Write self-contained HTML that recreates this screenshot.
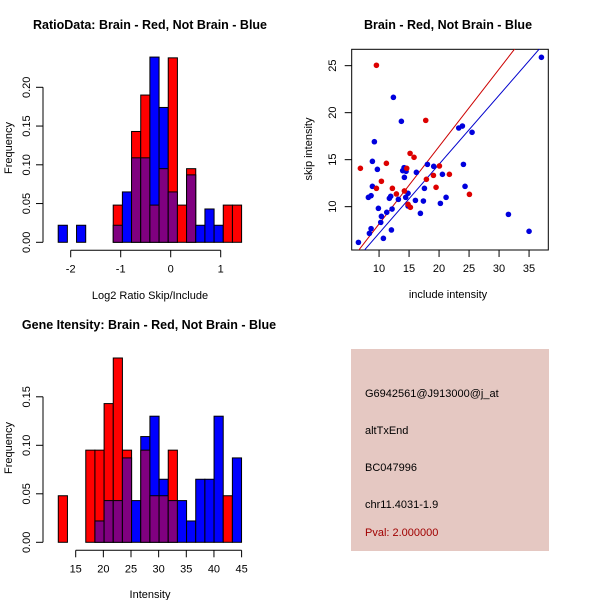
<!DOCTYPE html>
<html><head><meta charset="utf-8"><style>
html,body{margin:0;padding:0;background:#fff;}
svg{display:block;font-family:"Liberation Sans",sans-serif;}
.t{font-size:12.5px;font-weight:bold;}
.k{font-size:11px;}
</style></head><body>
<svg id="c" width="600" height="600" xmlns="http://www.w3.org/2000/svg">
<rect x="351" y="349" width="198" height="202" fill="#e5c8c2"/>
<g font-size="11">
<text x="365" y="397">G6942561@J913000@j_at</text>
<text x="365" y="434">altTxEnd</text>
<text x="365" y="471">BC047996</text>
<text x="365" y="508">chr11.4031-1.9</text>
<text x="365" y="536" fill="#a00000">Pval: 2.000000</text>
</g>
<defs><clipPath id="sc"><rect x="352" y="49" width="196" height="201"/></clipPath></defs>
</svg>
<script>
// Ratio histogram data
const ratioBinStart = -2.25, ratioBinWidth = 0.1834;
const ratioRed  = [0,0,0,0,0,0,0.048,0,0.143,0.19,0.048,0.095,0.238,0.048,0.095,0,0,0,0.048,0.048];
const ratioBlue = [0.022,0,0.022,0,0,0,0.022,0.065,0.109,0.109,0.239,0.174,0.065,0,0.087,0.022,0.043,0.022,0,0];
const ratioXTicks = [-2,-1,0,1];
const ratioYTicks = ["0.00","0.05","0.10","0.15","0.20"];
// Gene intensity histogram data
const intBinStart = 11.85, intBinWidth = 1.657;
const intRed  = [0.048,0,0,0.095,0.095,0.143,0.19,0.095,0,0.095,0.048,0.048,0.095,0,0,0,0,0,0.048,0];
const intBlue = [0,0,0,0,0.022,0.043,0.043,0.087,0.043,0.109,0.13,0.065,0.043,0.043,0.022,0.065,0.065,0.13,0,0.087];
const intXTicks = [15,20,25,30,35,40,45];
const intYTicks = ["0.00","0.05","0.10","0.15"];
// Scatter data
const blueX = [6.56,8.39,8.67,8.22,8.67,8.89,8.89,9.22,9.72,9.89,10.28,10.39,11.28,11.72,11.94,12.17,12.06,10.72,12.39,13.22,13.72,13.94,14.17,14.22,14.5,14.44,14.83,14.83,16.22,16.06,16.89,17.39,17.56,18.06,19.11,20.56,20.22,21.17,23.28,23.89,24.06,24.33,25.5,31.56,35.0,37.06];
const blueY = [6.2,7.16,7.66,10.99,11.17,12.16,14.82,16.91,13.97,9.82,8.33,8.97,9.4,10.89,11.1,9.75,7.52,6.63,21.63,10.78,19.08,13.83,14.15,13.12,13.76,10.99,11.42,10.07,13.65,10.67,9.29,10.6,11.95,14.5,14.29,13.44,10.35,10.99,18.37,18.58,14.5,12.16,17.91,9.18,7.38,25.89];
const redX = [6.89,9.56,9.56,11.22,10.39,12.22,12.89,14.22,14.61,15.17,15.83,14.83,15.22,17.78,17.89,19.06,20.06,19.5,21.72,25.06];
const redY = [14.08,25.04,11.95,14.61,12.7,11.95,11.35,11.67,14.08,15.67,15.25,10.25,9.93,19.18,12.91,13.33,14.33,12.06,13.44,11.31];
const fitRed = [0.8235,-0.07], fitBlue = [0.734,-0.17];
const scXTicks = [10,15,20,25,30,35], scYTicks = [10,15,20,25];

const svg = document.getElementById('c');
const NS = 'http://www.w3.org/2000/svg';
function mk(tag, attrs, parent){const e=document.createElementNS(NS,tag);for(const k in attrs)e.setAttribute(k,attrs[k]);(parent||svg).appendChild(e);return e;}
function txt(x,y,s,cls,extra){const e=mk('text',Object.assign({x:x,y:y,'text-anchor':'middle',class:cls},extra||{}));e.textContent=s;return e;}

function hist(name, xs, ys, start, w, red, blue, xt, yt){
  red.forEach((r,i)=>{
    const b = blue[i]; const x0 = xs(start+i*w), x1 = xs(start+(i+1)*w);
    const hi = Math.max(r,b), lo = Math.min(r,b);
    if(hi>0){
      const e = mk('rect',{x:x0,y:ys(hi),width:x1-x0,height:ys(0)-ys(hi),fill:r>b?'#ff0000':'#0000ff',stroke:'#000','stroke-width':1});
      
      
    }
    if(lo>0){
      const e = mk('rect',{x:x0,y:ys(lo),width:x1-x0,height:ys(0)-ys(lo),fill:'#800080',stroke:'#000','stroke-width':1});
      
      
    }
  });
  const g = mk('g',{stroke:'#000','stroke-width':1});
  
  
  const ab = ys(0)+8;
  mk('line',{x1:xs(xt[0]),x2:xs(xt[xt.length-1]),y1:ab,y2:ab},g);
  xt.forEach(v=>{mk('line',{x1:xs(v),x2:xs(v),y1:ab,y2:ab+7},g);
    const t=txt(xs(v),ab+22,String(v),'k');
    
    });
  const ax = 43;
  mk('line',{x1:ax,x2:ax,y1:ys(0),y2:ys(parseFloat(yt[yt.length-1]))},g);
  yt.forEach(s=>{const v=parseFloat(s);mk('line',{x1:ax,x2:ax-7,y1:ys(v),y2:ys(v)},g);
    const t=txt(30,ys(v),s,'k',{transform:'rotate(-90 30 '+ys(v)+')'});
    
    });
}

// Top-left
const rx = v=>170.7+50*v, ry = f=>242.3-775*f;
hist('ratio-hist', rx, ry, ratioBinStart, ratioBinWidth, ratioRed, ratioBlue, ratioXTicks, ratioYTicks);
let t;
t=txt(150,29,'RatioData: Brain - Red, Not Brain - Blue','t');


t=txt(150,299,'Log2 Ratio Skip/Include','k');


t=txt(12,148,'Frequency','k',{transform:'rotate(-90 12 148)'});



// Bottom-left
const ix = v=>75.7+5.53*(v-15), iy = f=>542.3-970*f;
hist('intensity-hist', ix, iy, intBinStart, intBinWidth, intRed, intBlue, intXTicks, intYTicks);
t=txt(149,329,'Gene Itensity: Brain - Red, Not Brain - Blue','t');


t=txt(150,598,'Intensity','k');


t=txt(12,448,'Frequency','k',{transform:'rotate(-90 12 448)'});



// Scatter
const sx = v=>351.7+(v-5.44)*6, sy = v=>250-(v-5.39)*9.4;
const fr = mk('rect',{x:351.7,y:49.3,width:196.6,height:200.7,fill:'none',stroke:'#000'});


const lg = mk('g',{'clip-path':'url(#sc)'});
[[fitRed,'#cc0000','red-fit-line'],[fitBlue,'#0000cc','blue-fit-line']].forEach(([f,c,n])=>{
  const x0=5.44,x1=38.22;
  const l=mk('line',{x1:sx(x0),y1:sy(f[0]*x0+f[1]),x2:sx(x1),y2:sy(f[0]*x1+f[1]),stroke:c,'stroke-width':1},lg);
  
  
});
blueX.forEach((v,i)=>{const c=mk('circle',{cx:sx(v),cy:sy(blueY[i]),r:2.8,fill:'#0000dd'});
  
  });
redX.forEach((v,i)=>{const c=mk('circle',{cx:sx(v),cy:sy(redY[i]),r:2.8,fill:'#dd0000'});
  
  });
const sg = mk('g',{stroke:'#000'});
scXTicks.forEach(v=>{mk('line',{x1:sx(v),x2:sx(v),y1:250,y2:257},sg);
  const tt=txt(sx(v),272,String(v),'k');
  
  });
scYTicks.forEach(v=>{mk('line',{x1:351.7,x2:344.7,y1:sy(v),y2:sy(v)},sg);
  const tt=txt(336,sy(v),String(v),'k',{transform:'rotate(-90 336 '+sy(v)+')'});
  
  });
t=txt(448,29,'Brain - Red, Not Brain - Blue','t');


t=txt(448,298,'include intensity','k');


t=txt(312,149,'skip intensity','k',{transform:'rotate(-90 312 149)'});


</script>
</body></html>
